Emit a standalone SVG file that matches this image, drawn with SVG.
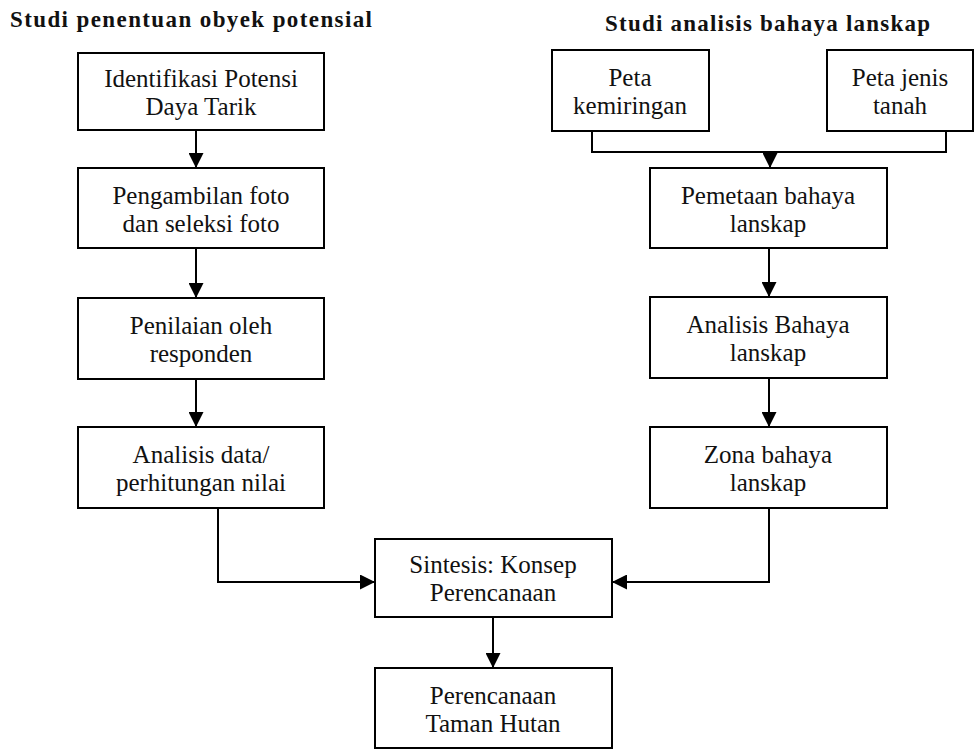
<svg xmlns="http://www.w3.org/2000/svg" width="974" height="749" viewBox="0 0 974 749">
<style>
.box{fill:#fff;stroke:#000;stroke-width:2}
.t{font-family:"Liberation Serif",serif;font-size:25px;fill:#111;text-anchor:middle}
.h{font-family:"Liberation Serif",serif;font-size:23px;font-weight:bold;fill:#111}
.c{fill:none;stroke:#000;stroke-width:2}
</style>
<defs>
<marker id="ah" viewBox="0 0 10 10" refX="10" refY="5" markerWidth="7.5" markerHeight="7.5" markerUnits="strokeWidth" orient="auto" preserveAspectRatio="none">
<path d="M0,0 L10,5 L0,10 Z" fill="#000"/>
</marker>
</defs>
<rect width="974" height="749" fill="#fff"/>
<text class="h" x="10" y="27" textLength="362" lengthAdjust="spacing">Studi penentuan obyek potensial</text>
<text class="h" x="605" y="31" textLength="325" lengthAdjust="spacing">Studi analisis bahaya lanskap</text>

<g id="connectors">
<path class="c" d="M196,130 V168" marker-end="url(#ah)"/>
<path class="c" d="M196,248 V298" marker-end="url(#ah)"/>
<path class="c" d="M196,379 V427" marker-end="url(#ah)"/>
<path class="c" d="M218,508 V582 H375" marker-end="url(#ah)"/>
<path class="c" d="M592,131 V152 H946 V131"/>
<path class="c" d="M770,152 V168" marker-end="url(#ah)"/>
<path class="c" d="M769,248 V297" marker-end="url(#ah)"/>
<path class="c" d="M769,378 V427" marker-end="url(#ah)"/>
<path class="c" d="M769,508 V582 H612" marker-end="url(#ah)"/>
<path class="c" d="M493,617 V668" marker-end="url(#ah)"/>
</g>

<g id="n1"><rect class="box" x="78" y="53" width="246" height="77"/>
<text class="t" x="201" y="87">Identifikasi Potensi</text><text class="t" x="201" y="115">Daya Tarik</text></g>
<g id="n2"><rect class="box" x="78" y="168" width="246" height="80"/>
<text class="t" x="201" y="204">Pengambilan foto</text><text class="t" x="201" y="232">dan seleksi foto</text></g>
<g id="n3"><rect class="box" x="78" y="298" width="246" height="81"/>
<text class="t" x="201" y="334">Penilaian oleh</text><text class="t" x="201" y="362">responden</text></g>
<g id="n4"><rect class="box" x="78" y="427" width="246" height="81"/>
<text class="t" x="201" y="463">Analisis data/</text><text class="t" x="201" y="491">perhitungan nilai</text></g>

<g id="r0a"><rect class="box" x="552" y="50" width="157" height="81"/>
<text class="t" x="630" y="86">Peta</text><text class="t" x="630" y="114">kemiringan</text></g>
<g id="r0b"><rect class="box" x="827" y="50" width="146" height="81"/>
<text class="t" x="900" y="86">Peta jenis</text><text class="t" x="900" y="114">tanah</text></g>
<g id="r1"><rect class="box" x="650" y="168" width="237" height="80"/>
<text class="t" x="768" y="204">Pemetaan bahaya</text><text class="t" x="768" y="232">lanskap</text></g>
<g id="r2"><rect class="box" x="650" y="297" width="237" height="81"/>
<text class="t" x="768" y="333">Analisis Bahaya</text><text class="t" x="768" y="361">lanskap</text></g>
<g id="r3"><rect class="box" x="650" y="427" width="237" height="81"/>
<text class="t" x="768" y="463">Zona bahaya</text><text class="t" x="768" y="491">lanskap</text></g>

<g id="s1"><rect class="box" x="375" y="539" width="237" height="78"/>
<text class="t" x="493" y="573">Sintesis: Konsep</text><text class="t" x="493" y="601">Perencanaan</text></g>
<g id="s2"><rect class="box" x="375" y="668" width="237" height="80"/>
<text class="t" x="493" y="704">Perencanaan</text><text class="t" x="493" y="732">Taman Hutan</text></g>
</svg>
